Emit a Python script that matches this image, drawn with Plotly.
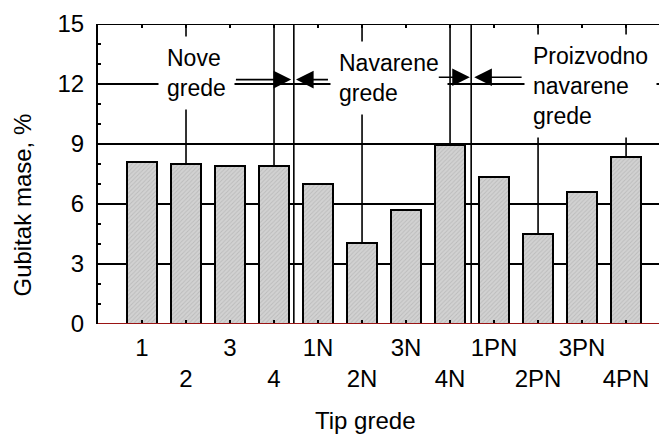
import plotly.graph_objects as go

# ---- data ----
categories = ["1", "2", "3", "4", "1N", "2N", "3N", "4N", "1PN", "2PN", "3PN", "4PN"]
mass_loss = [8.1, 8.0, 7.9, 7.9, 7.0, 4.05, 5.7, 8.93, 7.35, 4.52, 6.6, 8.35]
y_tick_values = [0, 3, 6, 9, 12, 15]
group_labels = ["Nove<br>grede", "Navarene<br>grede", "Proizvodno<br>navarene<br>grede"]
x_title = "Tip grede"
y_title = "Gubitak mase, %"

x_positions = list(range(1, len(categories) + 1))
# alternate tick labels onto two rows
tick_text = [c if i % 2 == 0 else "\u00a0<br>" + c for i, c in enumerate(categories)]

FONT = "Liberation Sans, Arial, sans-serif"
FS = 23
FS_AX = 24

fig = go.Figure()
fig.add_trace(go.Bar(
    x=x_positions, y=mass_loss, width=0.7,
    marker=dict(color="#cbcbcb",
                line=dict(color="black", width=2),
                pattern=dict(shape="/", bgcolor="#d2d2d2", fgcolor="#a4a4a4",
                             size=3, solidity=0.3)),
    showlegend=False,
))

X_MAX = 12.93
shapes = []
# vertical grid lines at even positions
for gx in range(2, 13, 2):
    shapes.append(dict(type="line", xref="x", yref="y", x0=gx, x1=gx, y0=0, y1=15,
                       line=dict(color="black", width=1.6), layer="below"))
# group separators
for sx in (4.45, 8.48):
    shapes.append(dict(type="line", xref="x", yref="y", x0=sx, x1=sx, y0=0, y1=15,
                       line=dict(color="black", width=1.6), layer="above"))
# top border and red baseline
shapes.append(dict(type="line", xref="paper", yref="y", x0=0, x1=1, y0=15, y1=15,
                   line=dict(color="black", width=2), layer="above"))
shapes.append(dict(type="line", xref="paper", yref="y", x0=0, x1=1, y0=0, y1=0,
                   line=dict(color="#9a1414", width=2), layer="above"))

annotations = []
label_pos = [(1.37, 14.4), (5.28, 14.17), (9.69, 14.52)]
for txt, (lx, ly) in zip(group_labels, label_pos):
    annotations.append(dict(text=txt, x=lx, y=ly, xref="x", yref="y",
                            xanchor="left", yanchor="top", align="left",
                            showarrow=False, bgcolor="white", borderpad=8,
                            font=dict(family=FONT, size=FS, color="black")))
# arrows: (tip_x, tail_x, y)
arrows = [(4.39, 3.10, 12.22), (4.50, 5.26, 12.22), (8.45, 7.71, 12.34), (8.55, 9.66, 12.34)]
for tx, ax_, ay_ in arrows:
    annotations.append(dict(text="", x=tx, y=ay_, ax=ax_, ay=ay_, xref="x", yref="y",
                            axref="x", ayref="y", showarrow=True, arrowhead=2,
                            arrowsize=2.2, arrowwidth=1.6, arrowcolor="black"))
annotations.append(dict(text=y_title, xref="paper", yref="paper", x=-0.132, y=0.398,
                        textangle=-90, showarrow=False, xanchor="center", yanchor="middle",
                        font=dict(family=FONT, size=FS_AX, color="black")))
annotations.append(dict(text=x_title, xref="paper", yref="paper", x=0.47, y=-0.322,
                        showarrow=False, xanchor="center", yanchor="middle",
                        font=dict(family=FONT, size=FS_AX, color="black")))

# the page body adds an 8px offset, so the figure is 8px smaller on each axis
fig.update_layout(
    width=659, height=426,
    margin=dict(l=90, r=0, t=16, b=110, autoexpand=False),
    paper_bgcolor="white", plot_bgcolor="white",
    font=dict(family=FONT, size=FS, color="black"),
    shapes=shapes, annotations=annotations,
    bargap=0,
    xaxis=dict(range=[0, X_MAX], tickmode="array", tickvals=x_positions, ticktext=tick_text,
               tickangle=0, automargin=False,
               showgrid=False, zeroline=False, showline=False,
               ticks="inside", ticklen=4, tickwidth=2, tickcolor="black", mirror="ticks",
               tickfont=dict(family=FONT, size=FS_AX, color="black"), ticklabelstandoff=7),
    yaxis=dict(range=[0, 15], tickmode="array", tickvals=y_tick_values, automargin=False,
               showgrid=True, gridcolor="black", gridwidth=1.6, zeroline=False,
               showline=True, linecolor="black", linewidth=2,
               ticks="inside", ticklen=4, tickwidth=2, tickcolor="black",
               minor=dict(dtick=1, ticks="inside", ticklen=3, tickcolor="black", showgrid=False),
               tickfont=dict(family=FONT, size=FS_AX, color="black"), ticklabelstandoff=7),
)

fig.write_html("out.html")
